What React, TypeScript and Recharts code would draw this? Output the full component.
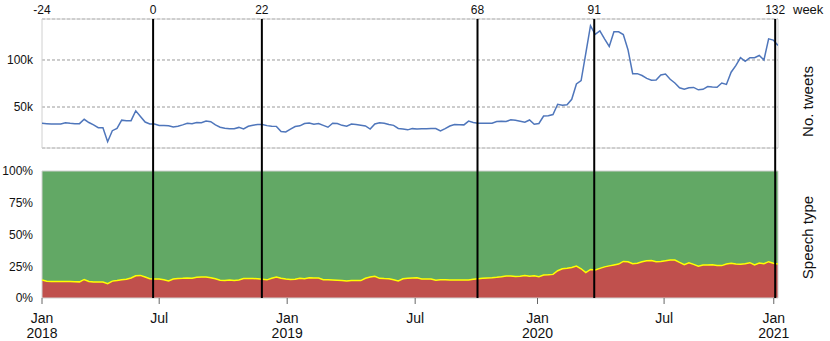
import React from 'react';
import {
  ComposedChart,
  Line,
  Area,
  XAxis,
  YAxis,
  CartesianGrid,
  ReferenceLine,
  ReferenceArea,
} from 'recharts';

// ---- data ----
const FIRST_WEEK = -24;
const LAST_WEEK_EDGE = 133;

// weekly number of tweets (thousands)
const tweetsK = [
  32.7, 32.3, 31.8, 31.8, 32, 33.3, 32.6, 32.3, 32.3, 36.9,
  33.5, 31, 28, 28, 13.1, 24.8, 27.3, 36, 35.5, 35.5,
  46, 40, 34, 32, 31.9, 30.3, 30.4, 30, 28.7, 29.5,
  31, 32.7, 32.3, 33.5, 33.3, 35, 34.4, 31, 28.5, 27.5,
  26.9, 26.8, 28.3, 26.7, 29.5, 30.6, 31.3, 31.5, 30.2, 29.6,
  29.4, 24, 23.5, 26.5, 29.2, 30, 32.5, 33, 31.8, 32.5,
  30.5, 28.5, 32.7, 32.4, 30.5, 29.5, 31.8, 31.3, 30.5, 29.8,
  26.5, 32, 33.2, 32.8, 31.5, 30.5, 27.2, 26.7, 25.7, 27,
  26.6, 26.9, 27, 27.2, 27.1, 24.5, 27, 29.8, 31.4, 31.2,
  31, 35, 33.5, 32.7, 32.7, 32.7, 32.7, 34.5, 34.8, 34.6,
  36.4, 35.8, 34.8, 33.8, 36.2, 31.6, 32.5, 40.4, 40.8, 42,
  52.9, 52, 52.3, 58.2, 74.5, 78, 107, 136.5, 127.3, 131,
  122.5, 114.5, 130, 130, 127, 111, 85.5, 85.5, 83.5, 80.5,
  78.5, 78.8, 84, 85, 79.5, 75.5, 70.5, 68.9, 70.5, 70.8,
  68.3, 68.8, 71.8, 71.2, 71, 75.5, 74, 87, 94, 102.5,
  98.5, 102.5, 102.5, 104.8, 100, 122.5, 121.2, 115.5,
];

// weekly share of the red speech type (%)
const redShare = [
  14.2, 13.2, 12.9, 12.9, 12.9, 12.9, 12.9, 12.8, 12.7, 14.6,
  13, 12.6, 12.6, 12.6, 11.2, 13.3, 13.8, 14.4, 14.8, 15.8,
  17.5, 17.8, 16.5, 15.2, 15, 14.9, 14.4, 13.4, 15, 15.4,
  15.5, 15.7, 15.6, 16.4, 16.6, 16.5, 16, 15.2, 14, 13.8,
  14.2, 13.8, 14.2, 15.3, 15.4, 15.3, 15.2, 14.8, 14.3, 15.5,
  16.6, 15.6, 14.9, 14.5, 14.8, 15.6, 15.2, 15.9, 15.8, 15.8,
  14.4, 14.4, 14.2, 14, 13.7, 13.4, 13.8, 13.8, 13.7, 15.5,
  16.6, 17.1, 15.5, 15.3, 15.2, 14.4, 13.5, 15.2, 15.5, 15.8,
  16, 15, 14.9, 15, 14, 14.4, 14.3, 14.2, 14.2, 14.2,
  14.2, 14.2, 14.8, 15.2, 15.5, 15.7, 15.9, 16.3, 16.8, 17.4,
  17.3, 16.9, 17.1, 17.8, 17.1, 17.6, 16.8, 18.1, 18.3, 18.6,
  21.5, 23, 23.4, 24, 25.2, 23, 20, 22.5, 22, 23.3,
  24.5, 25.3, 26, 26.7, 28.8, 28.5, 27, 27.3, 28.5, 29.4,
  29.6, 28.5, 28.8, 29.3, 29.9, 29.9, 28, 26.3, 27.8, 26.5,
  25, 25.9, 26, 26.1, 25.5, 25.5, 26.8, 27.3, 26.7, 26.6,
  27, 27.8, 26, 27.5, 27, 28.6, 27.4, 26.7,
];

// event weeks (labels) and where their lines sit on the week axis
const eventLabels = ['0', '22', '68', '91', '132'];
const eventPos = [-0.3, 22.9, 68.9, 93.8, 132.4];

const topTickLabels = ['-24', ...eventLabels];
const topTickPos = [-24, ...eventPos];

const monthTickPos = [-24, 1.0, 28.3, 55.6, 81.7, 108.7, 132.1];
const monthTickLabels = [
  ['Jan', '2018'],
  ['Jul'],
  ['Jan', '2019'],
  ['Jul'],
  ['Jan', '2020'],
  ['Jul'],
  ['Jan', '2021'],
];

const tweetTicks = [50000, 100000];
const pctTicks = [0, 25, 50, 75, 100];

const data = tweetsK.map((v, i) => ({
  week: FIRST_WEEK + i,
  tweets: v * 1000,
  red: redShare[i],
  green: 100 - redShare[i],
}));

// ---- styles ----
const TEXT = '#111';
const FRAME = '#d0d0d0';
const TOP_DOMAIN: [number, number] = [6400, 143600];
const TOP_GAP = 12;
const BOTTOM_GAP = 11;

const MonthTick = (props: any) => {
  const { x, y, payload } = props;
  const idx = monthTickPos.indexOf(payload.value);
  const lines = monthTickLabels[idx] || [];
  return (
    <text x={x} y={y} textAnchor="middle" fontSize={14} fill={TEXT}>
      {lines.map((s, k) => (
        <tspan key={k} x={x} dy={k === 0 ? 17 : 14.5}>
          {s}
        </tspan>
      ))}
    </text>
  );
};

const extendedLine = (up: number, down: number) => (p: any) => {
  const top = Math.min(p.y1, p.y2) - up;
  const bottom = Math.max(p.y1, p.y2) + down;
  return <line x1={p.x1} x2={p.x2} y1={top} y2={bottom} stroke="#000" strokeWidth={2} />;
};

export default function App() {
  return (
    <div
      style={{
        position: 'absolute',
        left: 0,
        top: 0,
        width: 830,
        height: 341,
        background: '#fff',
        fontFamily: '"Liberation Sans", Arial, sans-serif',
      }}
    >
      <ComposedChart
        width={830}
        height={160}
        data={data}
        margin={{ top: 0, right: 0, bottom: TOP_GAP, left: 0 }}
      >
        <XAxis
          dataKey="week"
          type="number"
          domain={[FIRST_WEEK, LAST_WEEK_EDGE]}
          orientation="top"
          height={19}
          ticks={topTickPos}
          interval={0}
          tickFormatter={(v: number) => topTickLabels[topTickPos.indexOf(v)]}
          tickLine={false}
          axisLine={false}
          tickSize={0}
          tickMargin={5}
          tick={{ fontSize: 12, fill: TEXT }}
          allowDataOverflow
          label={{ value: 'week', position: 'right', offset: 15, fontSize: 13, fill: TEXT }}
        />
        <YAxis
          yAxisId="l"
          domain={TOP_DOMAIN}
          ticks={tweetTicks}
          width={42}
          tickLine={false}
          axisLine={false}
          tickSize={0}
          tickMargin={9}
          tickFormatter={(v: number) => `${v / 1000}k`}
          tick={{ fontSize: 12, fill: TEXT }}
          allowDataOverflow
        />
        <YAxis
          yAxisId="r"
          orientation="right"
          width={52}
          tick={false}
          tickLine={false}
          axisLine={false}
          label={{ value: 'No. tweets', angle: -90, position: 'center', dx: 4, dy: 18, fontSize: 15, fill: TEXT }}
        />
        <CartesianGrid yAxisId="l" vertical={false} stroke="#9a9a9a" strokeDasharray="3 2" />
        <ReferenceArea
          yAxisId="l"
          x1={FIRST_WEEK}
          x2={LAST_WEEK_EDGE}
          y1={TOP_DOMAIN[0]}
          y2={TOP_DOMAIN[1]}
          fill="none"
          stroke={FRAME}
          ifOverflow="visible"
        />
        <Line
          yAxisId="l"
          type="linear"
          dataKey="tweets"
          stroke="#4f76bb"
          strokeWidth={1.5}
          dot={false}
          isAnimationActive={false}
        />
        {eventPos.map((x) => (
          <ReferenceLine key={x} yAxisId="l" x={x} shape={extendedLine(0, TOP_GAP)} ifOverflow="visible" />
        ))}
      </ComposedChart>
      <ComposedChart
        width={830}
        height={181}
        data={data}
        margin={{ top: BOTTOM_GAP, right: 0, bottom: 0, left: 0 }}
      >
        <XAxis
          dataKey="week"
          type="number"
          domain={[FIRST_WEEK, LAST_WEEK_EDGE]}
          height={43}
          ticks={monthTickPos}
          interval={0}
          tick={<MonthTick />}
          tickLine={{ stroke: '#666' }}
          tickSize={6}
          axisLine={false}
          allowDataOverflow
        />
        <YAxis
          yAxisId="l"
          domain={[0, 100]}
          ticks={pctTicks}
          width={42}
          tickLine={false}
          axisLine={false}
          tickSize={0}
          tickMargin={9}
          tickFormatter={(v: number) => `${v}%`}
          tick={{ fontSize: 12, fill: TEXT }}
        />
        <YAxis
          yAxisId="r"
          orientation="right"
          width={52}
          tick={false}
          tickLine={false}
          axisLine={false}
          label={{ value: 'Speech type', angle: -90, position: 'center', dx: 4, dy: 3, fontSize: 15, fill: TEXT }}
        />
        <Area
          yAxisId="l"
          type="linear"
          dataKey="red"
          stackId="s"
          fill="#c0504d"
          fillOpacity={1}
          stroke="none"
          isAnimationActive={false}
        />
        <Area
          yAxisId="l"
          type="linear"
          dataKey="green"
          stackId="s"
          fill="#62a865"
          fillOpacity={1}
          stroke="none"
          isAnimationActive={false}
        />
        <Line
          yAxisId="l"
          type="linear"
          dataKey="red"
          stroke="#ffff00"
          strokeWidth={1.5}
          dot={false}
          isAnimationActive={false}
        />
        <ReferenceArea
          yAxisId="l"
          x1={FIRST_WEEK}
          x2={LAST_WEEK_EDGE}
          y1={0}
          y2={100}
          fill="none"
          stroke={FRAME}
          ifOverflow="visible"
        />
        {eventPos.map((x) => (
          <ReferenceLine key={x} yAxisId="l" x={x} shape={extendedLine(BOTTOM_GAP, 0)} ifOverflow="visible" />
        ))}
      </ComposedChart>
    </div>
  );
}
